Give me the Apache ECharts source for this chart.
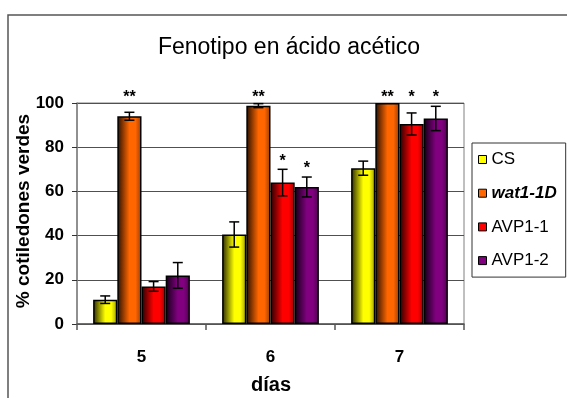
<!DOCTYPE html>
<html>
<head>
<meta charset="utf-8">
<script src="https://cdn.jsdelivr.net/npm/echarts@6/dist/echarts.min.js"></script>
<style>
  html, body { margin: 0; padding: 0; background: #ffffff; }
  #chart { width: 567px; height: 398px; }
</style>
</head>
<body>
<div id="chart"></div>
<script>
// Days after sowing (x categories)
const days = ['5', '6', '7'];
// Genotypes
const lines = ['CS', 'wat1-1D', 'AVP1-1', 'AVP1-2'];
const lineColors = ['#FFFF00', '#FF6600', '#FF0000', '#800080'];

// % green cotyledons (mean) and error (± half-width) per genotype
const csMean = [11, 40.5, 70.5];
const csErr = [1.7, 5.7, 3.2];
const watMean = [94, 98.8, 100];
const watErr = [1.8, 0.9, 0];
const avp1Mean = [17, 64, 90.5];
const avp1Err = [2.2, 6, 5];
const avp2Mean = [22, 62, 93];
const avp2Err = [5.8, 4.5, 5.5];

// Significance marks above each bar
const csSig = ['', '', ''];
const watSig = ['**', '**', '**'];
const avp1Sig = ['', '*', '*'];
const avp2Sig = ['', '*', '*'];

// Value axis ticks
const yTicks = [0, 20, 40, 60, 80, 100];

const means = [csMean, watMean, avp1Mean, avp2Mean];
const errs = [csErr, watErr, avp1Err, avp2Err];
const sigs = [csSig, watSig, avp1Sig, avp2Sig];

const FONT = '"Liberation Sans", Arial, sans-serif';
const GAP = 0.25; // barCategoryGap as a fraction

function shade(hex, f) {
  const n = parseInt(hex.slice(1), 16);
  const r = Math.round(((n >> 16) & 255) * f);
  const g = Math.round(((n >> 8) & 255) * f);
  const b = Math.round((n & 255) * f);
  return 'rgb(' + r + ',' + g + ',' + b + ')';
}

function barFill(hex) {
  return new echarts.graphic.LinearGradient(0, 0, 1, 0, [
    { offset: 0, color: shade(hex, 0.15) },
    { offset: 0.5, color: hex },
    { offset: 0.75, color: hex },
    { offset: 1, color: shade(hex, 0.6) }
  ]);
}

const barSeries = lines.map((name, i) => ({
  name: name,
  type: 'bar',
  data: means[i],
  barGap: '0%',
  barCategoryGap: (GAP * 100) + '%',
  itemStyle: { color: barFill(lineColors[i]), borderColor: '#000', borderWidth: 1.5 },
  emphasis: { disabled: true },
  z: 2
}));

// Error bars + significance marks, one item per bar
const errData = [];
lines.forEach((name, s) => {
  days.forEach((d, c) => {
    errData.push([c, s, means[s][c], errs[s][c]]);
  });
});

const errSeries = {
  type: 'custom',
  data: errData,
  encode: { x: 0, y: 2 },
  z: 5,
  silent: true,
  renderItem: function (params, api) {
    const cat = api.value(0), s = api.value(1), mean = api.value(2), err = api.value(3);
    const band = api.size([1, 0])[0];
    const group = band * (1 - GAP);
    const bw = group / lines.length;
    const cx = api.coord([cat, 0])[0] - group / 2 + bw * (s + 0.5);
    const yTop = api.coord([cat, mean + err])[1];
    const yBot = api.coord([cat, mean - err])[1];
    const plotTop = api.coord([cat, 100])[1];
    const st = { stroke: '#000', lineWidth: 1.5 };
    const children = [];
    if (err > 0) {
      children.push({ type: 'line', shape: { x1: cx, y1: yTop, x2: cx, y2: yBot }, style: st });
      children.push({ type: 'line', shape: { x1: cx - 5, y1: yTop, x2: cx + 5, y2: yTop }, style: st });
      children.push({ type: 'line', shape: { x1: cx - 5, y1: yBot, x2: cx + 5, y2: yBot }, style: st });
    }
    const mark = sigs[s][cat];
    if (mark) {
      let ty = yTop - 8;
      if (ty - 6 < plotTop) ty = plotTop - 5;
      children.push({
        type: 'text',
        style: {
          text: mark, x: cx, y: ty, align: 'center', verticalAlign: 'middle',
          font: 'bold 16px ' + FONT, fill: '#000'
        }
      });
    }
    return { type: 'group', children: children };
  }
};

const chart = echarts.init(document.getElementById('chart'), null, { renderer: 'canvas' });
chart.setOption({
  backgroundColor: '#ffffff',
  animation: false,
  grid: {
    left: 77, right: 103, top: 103, bottom: 74,
    show: true, borderColor: '#808080', borderWidth: 1
  },
  legend: {
    orient: 'vertical',
    left: 472, top: 143,
    padding: [8, 9, 8, 6],
    itemWidth: 8, itemHeight: 8,
    itemGap: 16.7,
    borderColor: '#333', borderWidth: 1,
    icon: 'rect',
    data: lines.map((n, i) => ({
      name: n,
      itemStyle: { color: lineColors[i], borderColor: '#000', borderWidth: 1 }
    })),
    formatter: n => n === 'wat1-1D' ? '{it|' + n + '}' : n,
    textStyle: {
      fontFamily: FONT, fontSize: 17, color: '#000', lineHeight: 16,
      rich: { it: { fontFamily: FONT, fontSize: 17, fontStyle: 'italic', fontWeight: 'bold', color: '#000' } }
    },
    selectedMode: false
  },
  xAxis: {
    type: 'category',
    data: days,
    axisLine: { lineStyle: { color: '#555', width: 1.5 } },
    axisTick: { show: true, length: 6, alignWithLabel: false, lineStyle: { color: '#555', width: 1.5 } },
    axisLabel: { fontFamily: FONT, fontSize: 17, fontWeight: 'bold', color: '#000', margin: 25 },
    splitLine: { show: false }
  },
  yAxis: {
    type: 'value',
    min: yTicks[0], max: yTicks[yTicks.length - 1], interval: yTicks[1] - yTicks[0],
    axisLine: { show: true, lineStyle: { color: '#808080', width: 1.5 } },
    axisTick: { show: true, length: 5, lineStyle: { color: '#333', width: 1 } },
    axisLabel: { fontFamily: FONT, fontSize: 17, fontWeight: 'bold', color: '#000', margin: 13 },
    splitLine: { show: true, lineStyle: { color: '#505050', width: 1 } }
  },
  graphic: [
    {
      type: 'rect', silent: true, z: -1,
      shape: { x: 8, y: 15, width: 700, height: 500 },
      style: { fill: 'none', stroke: '#555', lineWidth: 1.5 }
    },
    {
      type: 'text', silent: true,
      style: {
        text: 'Fenotipo en ácido acético', x: 289, y: 48,
        align: 'center', verticalAlign: 'middle',
        font: '23px ' + FONT, fill: '#000'
      }
    },
    {
      type: 'text', silent: true,
      x: 24, y: 211, rotation: Math.PI / 2,
      style: {
        text: '% cotiledones verdes', x: 0, y: 0,
        align: 'center', verticalAlign: 'middle',
        font: 'bold 19px ' + FONT, fill: '#000'
      }
    },
    {
      type: 'text', silent: true,
      style: {
        text: 'días', x: 271, y: 385,
        align: 'center', verticalAlign: 'middle',
        font: 'bold 20px ' + FONT, fill: '#000'
      }
    }
  ],
  series: barSeries.concat([errSeries])
});
</script>
</body>
</html>
